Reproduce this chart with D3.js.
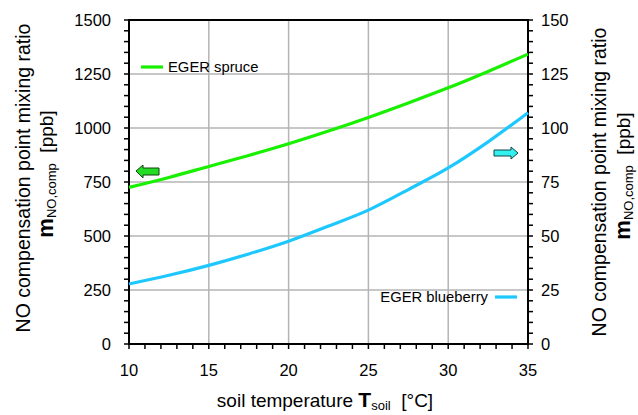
<!DOCTYPE html>
<html>
<head>
<meta charset="utf-8">
<script src="https://cdn.jsdelivr.net/npm/d3@7"></script>
<style>
  body { margin: 0; background: #fff; }
  text { font-family: Arial, "Liberation Sans", sans-serif; fill: #000; }
</style>
</head>
<body>
<svg id="chart" width="638" height="415"></svg>
<script>
// soil temperature (°C)
const temps = [10, 12.5, 15, 17.5, 20, 22.5, 25, 27.5, 30, 32.5, 35];
// EGER spruce, left axis (ppb)
const spruce = [725, 771, 822, 873, 927, 986, 1049, 1116, 1186, 1262, 1342];
// EGER blueberry, right axis (ppb)
const blueberry = [27.8, 31.8, 36.4, 41.7, 47.6, 54.6, 62.0, 71.5, 81.5, 93.6, 107.1];

const xTicks = [10, 15, 20, 25, 30, 35];
const yLeftTicks = [0, 250, 500, 750, 1000, 1250, 1500];
const yRightTicks = [0, 25, 50, 75, 100, 125, 150];

const svg = d3.select("#chart");
const mLeft = 129, mRight = 528, mTop = 20, mBottom = 344;

const x = d3.scaleLinear().domain([10, 35]).range([mLeft, mRight]);
const yL = d3.scaleLinear().domain([0, 1500]).range([mBottom, mTop]);
const yR = d3.scaleLinear().domain([0, 150]).range([mBottom, mTop]);

// grid
svg.append("g").selectAll("line")
    .data(xTicks.slice(1, -1))
    .enter().append("line")
    .attr("x1", d => x(d)).attr("x2", d => x(d))
    .attr("y1", mTop).attr("y2", mBottom)
    .style("stroke", "#b4b4b4").style("stroke-width", 1.5);

svg.append("g").selectAll("line")
    .data(yLeftTicks.slice(1, -1))
    .enter().append("line")
    .attr("x1", mLeft).attr("x2", mRight)
    .attr("y1", d => yL(d)).attr("y2", d => yL(d))
    .style("stroke", "#b4b4b4").style("stroke-width", 1.5);

// minor + major ticks
const minorX = d3.range(10, 35.01, 1);
svg.append("g").selectAll("line")
    .data(minorX)
    .enter().append("line")
    .attr("x1", d => x(d)).attr("x2", d => x(d))
    .attr("y1", mBottom).attr("y2", mBottom + 5)
    .style("stroke", "#000").style("stroke-width", 1.5);

const minorY = d3.range(0, 1500.1, 50);
svg.append("g").selectAll("line")
    .data(minorY)
    .enter().append("line")
    .attr("x1", mLeft - 5).attr("x2", mLeft)
    .attr("y1", d => yL(d)).attr("y2", d => yL(d))
    .style("stroke", "#000").style("stroke-width", 1.5);

const minorYR = d3.range(0, 150.01, 5);
svg.append("g").selectAll("line")
    .data(minorYR)
    .enter().append("line")
    .attr("x1", mRight).attr("x2", mRight + 5)
    .attr("y1", d => yR(d)).attr("y2", d => yR(d))
    .style("stroke", "#000").style("stroke-width", 1.5);

// frame
svg.append("rect")
    .attr("x", mLeft).attr("y", mTop)
    .attr("width", mRight - mLeft).attr("height", mBottom - mTop)
    .style("fill", "none").style("stroke", "#000").style("stroke-width", 2);

// tick labels
svg.append("g").selectAll("text")
    .data(xTicks)
    .enter().append("text")
    .attr("x", d => x(d)).attr("y", 376)
    .attr("text-anchor", "middle")
    .style("font-size", "16.5px")
    .text(d => d);

svg.append("g").selectAll("text")
    .data(yLeftTicks)
    .enter().append("text")
    .attr("x", 111).attr("y", d => yL(d) + 6)
    .attr("text-anchor", "end")
    .style("font-size", "16.5px")
    .text(d => d);

svg.append("g").selectAll("text")
    .data(yRightTicks)
    .enter().append("text")
    .attr("x", 541).attr("y", d => yR(d) + 6)
    .attr("text-anchor", "start")
    .style("font-size", "16.5px")
    .text(d => d);

// lines
const lineL = d3.line()
    .x((d, i) => x(temps[i]))
    .y(d => yL(d))
    .curve(d3.curveMonotoneX);
const lineR = d3.line()
    .x((d, i) => x(temps[i]))
    .y(d => yR(d))
    .curve(d3.curveMonotoneX);

svg.append("path")
    .attr("d", lineR(blueberry))
    .style("fill", "none").style("stroke", "#1ec8ff").style("stroke-width", 3.2);

svg.append("path")
    .attr("d", lineL(spruce))
    .style("fill", "none").style("stroke", "#19f000").style("stroke-width", 3.2);

// legends
svg.append("line")
    .attr("x1", 141).attr("x2", 163).attr("y1", 67).attr("y2", 67)
    .style("stroke", "#19f000").style("stroke-width", 3.2);
svg.append("text")
    .attr("x", 168).attr("y", 72)
    .style("font-size", "14.8px")
    .text("EGER spruce");

svg.append("line")
    .attr("x1", 495).attr("x2", 517).attr("y1", 297).attr("y2", 297)
    .style("stroke", "#1ec8ff").style("stroke-width", 3.2);
svg.append("text")
    .attr("x", 488).attr("y", 302)
    .attr("text-anchor", "end")
    .style("font-size", "14.8px")
    .text("EGER blueberry");

// axis arrows
svg.append("path")
    .attr("d", "M136,171 L143,165 L143,168 L159,168 L159,175 L143,175 L143,178 Z")
    .style("fill", "#22dd22").style("stroke", "#114411").style("stroke-width", 1);
svg.append("path")
    .attr("d", "M518,153 L511,147 L511,150 L494,150 L494,156 L511,156 L511,159 Z")
    .style("fill", "#33f0f0").style("stroke", "#114444").style("stroke-width", 1);

// axis titles
const xt = svg.append("text")
    .attr("x", 325).attr("y", 407)
    .attr("text-anchor", "middle")
    .style("font-size", "19px");
xt.append("tspan").text("soil temperature ");
xt.append("tspan").style("font-weight", "bold").style("font-size", "21px").text("T");
xt.append("tspan").attr("dy", 3).style("font-size", "13px").text("soil");
xt.append("tspan").attr("dy", -3).text("\u00a0\u00a0[°C]");

function yTitle(cx1, cx2, cy, cy2) {
    svg.append("text")
        .attr("transform", `translate(${cx1},${cy}) rotate(-90)`)
        .attr("text-anchor", "middle")
        .style("font-size", "19.5px")
        .text("NO compensation point mixing ratio");
    const t = svg.append("text")
        .attr("transform", `translate(${cx2},${cy2}) rotate(-90)`)
        .attr("text-anchor", "middle")
        .style("font-size", "19px");
    t.append("tspan").style("font-weight", "bold").style("font-size", "22px").text("m");
    t.append("tspan").attr("dy", 3).style("font-size", "13px").text("NO,comp");
    t.append("tspan").attr("dy", -3).text("\u00a0\u00a0[ppb]");
}
yTitle(30, 53, 178, 174);
yTitle(606, 630, 182, 176);
</script>
</body>
</html>
